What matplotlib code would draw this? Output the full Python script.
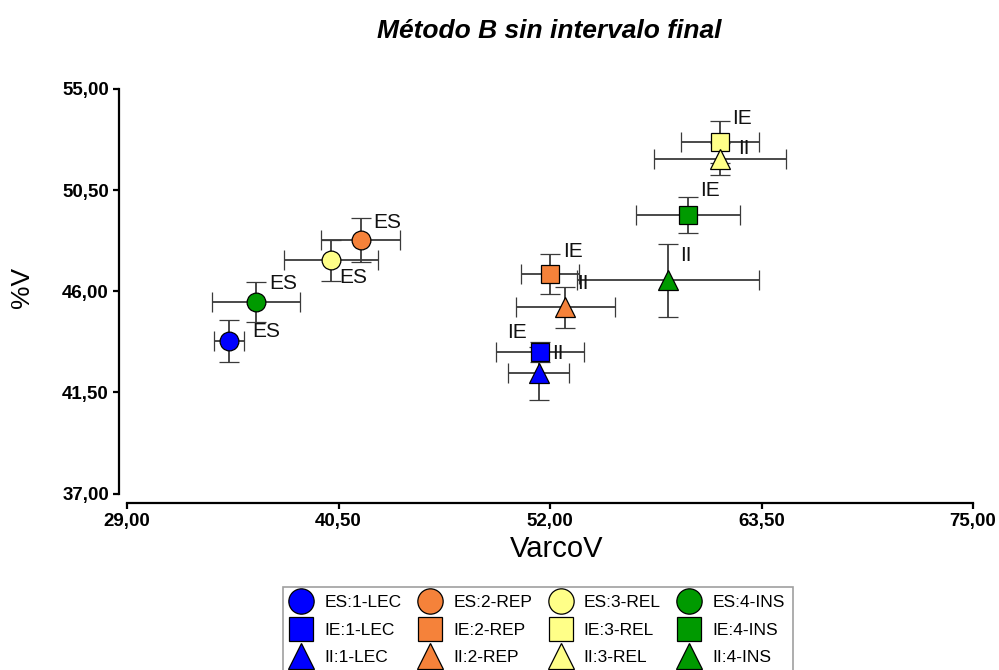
import matplotlib
matplotlib.use("Agg")
import matplotlib.pyplot as plt
from matplotlib.ticker import FixedLocator, FuncFormatter

plt.rcParams['font.family'] = ['Liberation Sans', 'DejaVu Sans']

# ---- data ----
groups = ["1-LEC", "2-REP", "3-REL", "4-INS"]
methods = ["ES", "IE", "II"]

# x = VarcoV, y = %V, with symmetric error bars
es_x = [34.56, 41.72, 40.09, 36.01]
es_y = [43.78, 48.27, 47.38, 45.51]
es_xerr = [0.82, 2.15, 2.56, 2.39]
es_yerr = [0.94, 0.98, 0.91, 0.89]

ie_x = [51.46, 52.00, 61.25, 59.51]
ie_y = [43.28, 46.76, 52.64, 49.39]
ie_xerr = [2.37, 1.60, 2.12, 2.83]
ie_yerr = [0.45, 0.89, 0.94, 0.80]

ii_x = [51.40, 52.82, 61.25, 58.42]
ii_y = [42.34, 45.29, 51.88, 46.49]
ii_xerr = [1.66, 2.69, 3.59, 4.95]
ii_yerr = [1.20, 0.91, 0.71, 1.63]

x_ticks = [29.0, 40.5, 52.0, 63.5, 75.0]
y_ticks = [37.0, 41.5, 46.0, 50.5, 55.0]

# ---- style ----
colors = ["#0000ff", "#f5823a", "#ffff88", "#009a00"]
markers = {"ES": "o", "IE": "s", "II": "^"}
msizes = {"ES": 13.5, "IE": 13, "II": 14}
# label offsets in pixels (dx right, dy up) per method/group
label_offsets = {
    "ES": [(23, 10), (12, 18), (8, -17), (13, 19)],
    "IE": [(-33, 20), (13, 23), (12, 24), (12, 25)],
    "II": [(13, 20), (12, 24), (18, 11), (12, 25)],
}

data = {
    "ES": (es_x, es_y, es_xerr, es_yerr),
    "IE": (ie_x, ie_y, ie_xerr, ie_yerr),
    "II": (ii_x, ii_y, ii_xerr, ii_yerr),
}

fig = plt.figure(figsize=(9.99, 6.70), dpi=100)
ax = fig.add_axes([127/999, 1-493.5/670, (973-127)/999, (493.5-89)/670])

handles = {}
for m in methods:
    xs, ys, xe, ye = data[m]
    for gi, g in enumerate(groups):
        eb = ax.errorbar(xs[gi], ys[gi], xerr=xe[gi], yerr=ye[gi],
                         fmt=markers[m], ms=msizes[m], mfc=colors[gi], mec="black", mew=0.9,
                         ecolor="#3a3a3a", elinewidth=1.3, capsize=7, capthick=1.3,
                         label=f"{m}:{g}")
        handles[(m, gi)] = eb[0]
        dx, dy = label_offsets[m][gi]
        ax.annotate(m, (xs[gi], ys[gi]), xytext=(dx, dy), textcoords="offset pixels",
                    ha="left", va="center", fontsize=15, color="#111111")

ax.set_xlim(29, 75)
ax.set_ylim(37, 55)
ax.xaxis.set_major_locator(FixedLocator(x_ticks))
ax.yaxis.set_major_locator(FixedLocator(y_ticks))
fmt = FuncFormatter(lambda v, p: f"{v:.2f}".replace(".", ","))
ax.xaxis.set_major_formatter(fmt)
ax.yaxis.set_major_formatter(fmt)

for s in ["top", "right"]:
    ax.spines[s].set_visible(False)
ax.spines["left"].set_position(("outward", 6))
ax.spines["bottom"].set_position(("outward", 7))
for s in ["left", "bottom"]:
    ax.spines[s].set_linewidth(1.6)
ax.tick_params(axis="both", length=4, width=1.6, direction="out", labelsize=13.5, pad=3)
for lab in ax.get_xticklabels() + ax.get_yticklabels():
    lab.set_fontweight("bold")

ax.set_xlabel("VarcoV", fontsize=21)
ax.set_ylabel("%V", fontsize=19)
ax.xaxis.set_label_coords((557-127)/846, (493.5-535)/404.5)
ax.yaxis.set_label_coords((34-127)/846, (493.5-287)/404.5)

fig.text(549/999, 1-31/670, "Método B sin intervalo final", ha="center", va="center",
         fontsize=19, fontweight="bold", fontstyle="italic")

order = [handles[(m, gi)] for gi in range(4) for m in methods]
labels = [f"{m}:{groups[gi]}" for gi in range(4) for m in methods]
leg = fig.legend(order, labels, ncol=4, loc="upper left",
                 bbox_to_anchor=(283/999, 1-587/670), fontsize=12.5,
                 frameon=True, fancybox=False, edgecolor="#888888",
                 markerscale=1.35, handlelength=1.2, handletextpad=0.73,
                 columnspacing=1.05, labelspacing=0.72, borderpad=0.45,
                 borderaxespad=0)
leg.get_frame().set_linewidth(1.2)

fig.savefig("out.png", dpi=100)
